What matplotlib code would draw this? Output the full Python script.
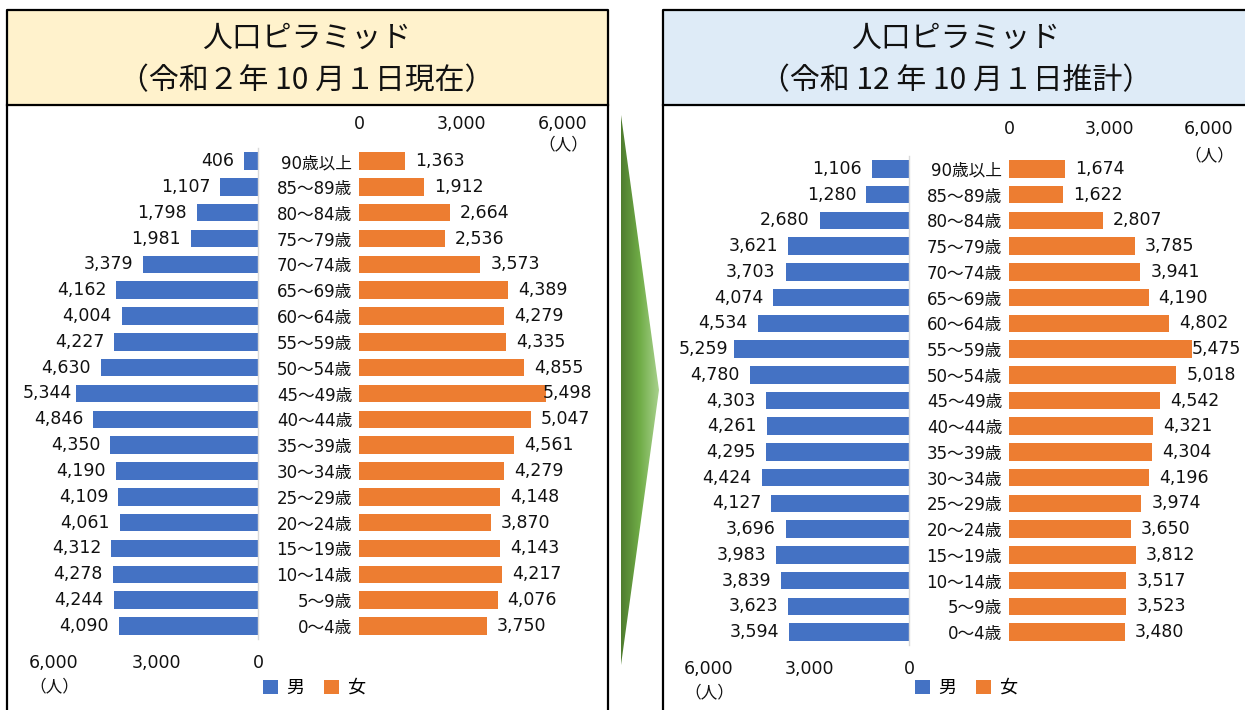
import matplotlib
matplotlib.use('Agg')
import matplotlib.pyplot as plt
import numpy as np
from matplotlib.patches import Polygon, Patch
from matplotlib.colors import LinearSegmentedColormap
from matplotlib.ticker import FuncFormatter

plt.rcParams['font.family'] = ['DejaVu Sans', 'Noto Sans CJK JP']
CJK = ['Noto Sans CJK JP', 'DejaVu Sans']

# ---------------- data (bottom row first) ----------------
age_groups = ['0～4歳', '5～9歳', '10～14歳', '15～19歳', '20～24歳', '25～29歳',
              '30～34歳', '35～39歳', '40～44歳', '45～49歳', '50～54歳', '55～59歳',
              '60～64歳', '65～69歳', '70～74歳', '75～79歳', '80～84歳', '85～89歳',
              '90歳以上']
male_2020 = [4090, 4244, 4278, 4312, 4061, 4109, 4190, 4350, 4846, 5344,
             4630, 4227, 4004, 4162, 3379, 1981, 1798, 1107, 406]
female_2020 = [3750, 4076, 4217, 4143, 3870, 4148, 4279, 4561, 5047, 5498,
               4855, 4335, 4279, 4389, 3573, 2536, 2664, 1912, 1363]
male_2030 = [3594, 3623, 3839, 3983, 3696, 4127, 4424, 4295, 4261, 4303,
             4780, 5259, 4534, 4074, 3703, 3621, 2680, 1280, 1106]
female_2030 = [3480, 3523, 3517, 3812, 3650, 3974, 4196, 4304, 4321, 4542,
               5018, 5475, 4802, 4190, 3941, 3785, 2807, 1622, 1674]
x_ticks = [0, 3000, 6000]
title_main = '人口ピラミッド'
title_left = '（令和２年 10 月１日現在）'
title_right = '（令和 12 年 10 月１日推計）'
unit_label = '（人）'
legend_labels = ['男', '女']

BLUE = '#4472C4'
ORANGE = '#ED7D31'
TXT = '#111111'
W, H = 1245, 710

fig = plt.figure(figsize=(W / 100, H / 100), dpi=100)

# ---------------- background / frames ----------------
bg = fig.add_axes([0, 0, 1, 1], zorder=0)
bg.set_xlim(0, W)
bg.set_ylim(H, 0)
bg.axis('off')

def panel(x0, x1, face, cx, sub):
    bg.fill_between([x0, x1], 10, 105, color=face, zorder=0)
    bg.plot([x0, x0, x1, x1], [H + 5, 10, 10, H + 5], color='black', lw=1.6, zorder=2)
    bg.plot([x0, x1], [105, 105], color='black', lw=1.6, zorder=2)
    bg.text(cx, 38, title_main, ha='center', va='center', fontsize=21.5, color=TXT, family=CJK)
    bg.text(cx, 81, sub, ha='center', va='center', fontsize=21.5, color=TXT, family=CJK)

panel(7, 608, '#FFF2CC', 307, title_left)
panel(663, 1260, '#DEEBF7', 956, title_right)

# arrow with gradient
cmap = LinearSegmentedColormap.from_list('g', ['#4F7C2F', '#70AD47', '#A9D18E'])
grad = np.linspace(0, 1, 256).reshape(1, -1)
im = bg.imshow(grad, cmap=cmap, extent=(621, 659, 665, 115), aspect='auto', zorder=1)
tri = Polygon([[621, 115], [659, 390], [621, 665]], closed=True, facecolor='none',
              edgecolor='none', transform=bg.transData)
bg.add_patch(tri)
im.set_clip_path(tri)
bg.set_xlim(0, W)
bg.set_ylim(H, 0)

def frac(x0, x1, ytop, ybot):
    return [x0 / W, 1 - ybot / H, (x1 - x0) / W, (ybot - ytop) / H]

fmt = FuncFormatter(lambda v, p: f'{v:,.0f}')
y = np.arange(len(age_groups))
FS = 12.5


def pyramid(male, female, mx0, mx1, fx0, fx1, ytop, ybot,
            top_pad, bot_pad, unit_top_y, unit_bot_y,
            m_clamp, f_clamp, legend_cx):
    axm = fig.add_axes(frac(mx0, mx1, ytop, ybot), zorder=1)
    axf = fig.add_axes(frac(fx0, fx1, ytop, ybot), zorder=1)
    hpx = ybot - ytop
    for ax in (axm, axf):
        ax.set_facecolor('none')
        ax.set_ylim(-0.5, len(age_groups) - 0.5)
        for s in ax.spines.values():
            s.set_visible(False)
        ax.set_xticks(x_ticks)
        ax.xaxis.set_major_formatter(fmt)
    # male
    axm.set_xlim(6000, 0)
    axm.barh(y, male, height=0.68, color=BLUE)
    axm.set_yticks([])
    axm.tick_params(axis='x', length=0, pad=bot_pad, labelsize=FS, labelcolor=TXT)
    axm.spines['right'].set_visible(True)
    axm.spines['right'].set_color('#D9D9D9')
    axm.spines['right'].set_linewidth(1)
    gap_m = 10 / (mx1 - mx0) * 6000
    for yi, v in zip(y, male):
        axm.text(min(v + gap_m, m_clamp), yi, f'{v:,}', ha='right', va='center',
                 fontsize=FS, color=TXT)
    axm.text(6000, -(unit_bot_y - ybot) / hpx, unit_label, transform=axm.get_xaxis_transform(),
             ha='center', va='center', fontsize=12, color=TXT, family=CJK)
    # female
    axf.set_xlim(0, 6000)
    axf.barh(y, female, height=0.68, color=ORANGE)
    axf.xaxis.tick_top()
    axf.tick_params(axis='x', length=0, pad=top_pad, labelsize=FS, labelcolor=TXT)
    axf.set_yticks(y)
    axf.set_yticklabels(age_groups)
    axf.tick_params(axis='y', length=0, pad=5, labelsize=12, labelcolor=TXT)
    gap_f = 10 / (fx1 - fx0) * 6000
    for yi, v in zip(y, female):
        axf.text(min(v + gap_f, f_clamp), yi, f'{v:,}', ha='left', va='center',
                 fontsize=FS, color=TXT)
    axf.text(6000, 1 + (ytop - unit_top_y) / hpx, unit_label, transform=axf.get_xaxis_transform(),
             ha='center', va='center', fontsize=12, color=TXT, family=CJK)
    # legend
    handles = [Patch(facecolor=BLUE, label=legend_labels[0]),
               Patch(facecolor=ORANGE, label=legend_labels[1])]
    fig.legend(handles=handles, loc='center', bbox_to_anchor=(legend_cx / W, 1 - 688 / H),
               ncol=2, frameon=False, prop={'family': CJK, 'size': 13},
               handlelength=0.85, handleheight=0.85,
               handletextpad=0.45, columnspacing=1.1)


pyramid(male_2020, female_2020, 54, 258, 359, 563, 148.1, 638.9,
        top_pad=11, bot_pad=11, unit_top_y=145, unit_bot_y=687,
        m_clamp=5471, f_clamp=5412, legend_cx=314)
pyramid(male_2030, female_2030, 709, 909, 1009, 1209, 156.1, 644.9,
        top_pad=13, bot_pad=11, unit_top_y=156, unit_bot_y=693,
        m_clamp=5430, f_clamp=5490, legend_cx=966)

fig.savefig('out.png', dpi=100)
